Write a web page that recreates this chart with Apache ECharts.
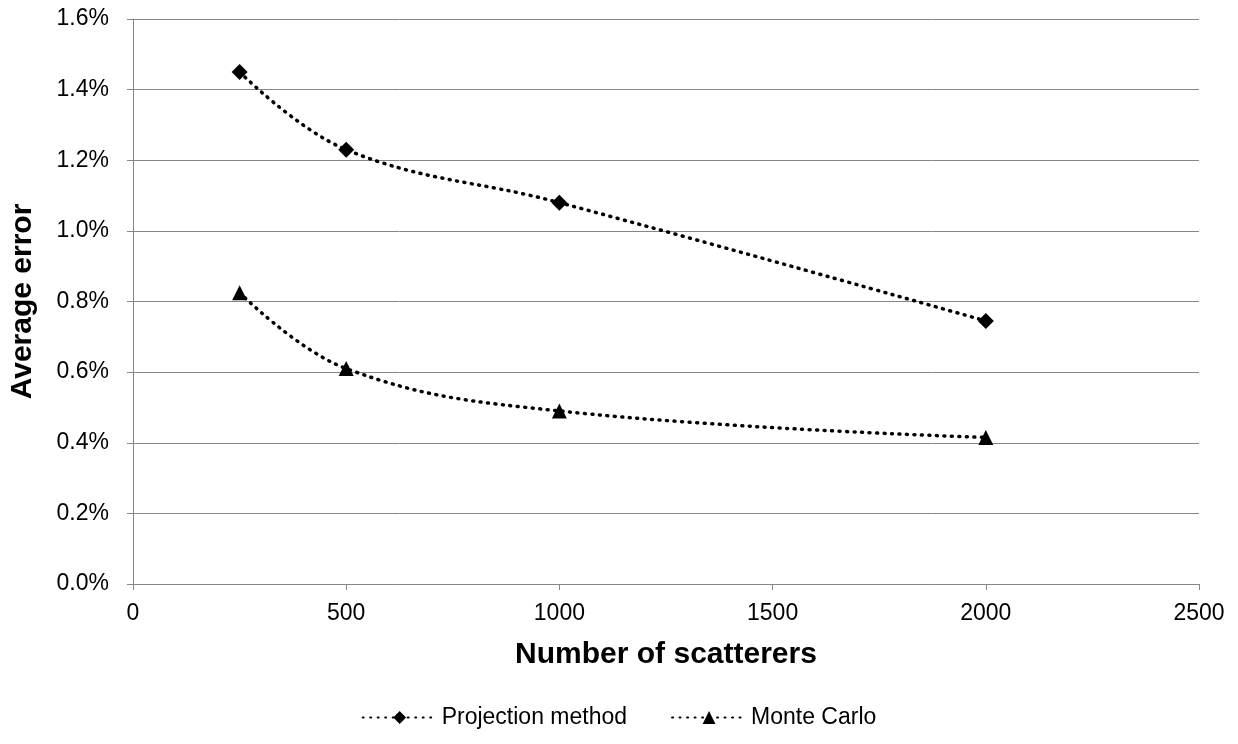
<!DOCTYPE html>
<html>
<head>
<meta charset="utf-8">
<script src="https://cdn.jsdelivr.net/npm/echarts@6/dist/echarts.min.js"></script>
<style>html,body{margin:0;padding:0;background:#fff;}#c{width:1238px;height:744px;}</style>
</head>
<body>
<div id="c"></div>
<script>
const xValues = [250, 500, 1000, 2000];
const projection = [1.45, 1.23, 1.08, 0.745];
const monteCarlo = [0.825, 0.61, 0.49, 0.415];
const seriesNames = ['Projection method', 'Monte Carlo'];

const chart = echarts.init(document.getElementById('c'));
const font = 'Liberation Sans, Arial, sans-serif';
function pts(vals){ return xValues.map((x,i)=>[x, vals[i]]); }
chart.setOption({
  animation: false,
  backgroundColor: '#fff',
  grid: {left: 133, right: 39, top: 19, bottom: 160, containLabel: false, outerBoundsMode: 'none'},
  xAxis: {
    type: 'value', min: 0, max: 2500, interval: 500,
    name: 'Number of scatterers', nameLocation: 'middle', nameGap: 56,
    nameTextStyle: {fontFamily: font, fontSize: 30, fontWeight: 'bold', color: '#000'},
    axisLine: {lineStyle: {color: '#868686', width: 1}},
    axisTick: {show: true, length: 6, lineStyle: {color: '#868686'}},
    axisLabel: {fontFamily: font, fontSize: 23, color: '#000', margin: 18,
      formatter: v => String(v)},
    splitLine: {show: false}
  },
  yAxis: {
    type: 'value', min: 0, max: 1.6, interval: 0.2,
    name: 'Average error', nameLocation: 'middle', nameGap: 95,
    nameTextStyle: {fontFamily: font, fontSize: 30, fontWeight: 'bold', color: '#000'},
    axisLine: {show: true, lineStyle: {color: '#868686', width: 1}},
    axisTick: {show: true, length: 6, lineStyle: {color: '#868686'}},
    axisLabel: {fontFamily: font, fontSize: 23, color: '#000', margin: 24,
      formatter: v => v.toFixed(1) + '%'},
    splitLine: {show: true, lineStyle: {color: '#868686', width: 1}}
  },
  legend: {
    bottom: 10, left: 'center', itemGap: 44, itemWidth: 74, itemHeight: 16,
    textStyle: {fontFamily: font, fontSize: 23, color: '#000'},
    data: seriesNames
  },
  series: [
    {name: seriesNames[0], type: 'line', data: pts(projection), smooth: 0.4,
     symbol: 'diamond', symbolSize: 16, itemStyle: {color: '#000'},
     lineStyle: {color: '#000', width: 3.5, type: [1, 6.5], cap: 'round'}},
    {name: seriesNames[1], type: 'line', data: pts(monteCarlo), smooth: 0.4,
     symbol: 'triangle', symbolSize: 15, itemStyle: {color: '#000'},
     lineStyle: {color: '#000', width: 3.5, type: [1, 6.5], cap: 'round'}}
  ]
});
</script>
</body>
</html>
